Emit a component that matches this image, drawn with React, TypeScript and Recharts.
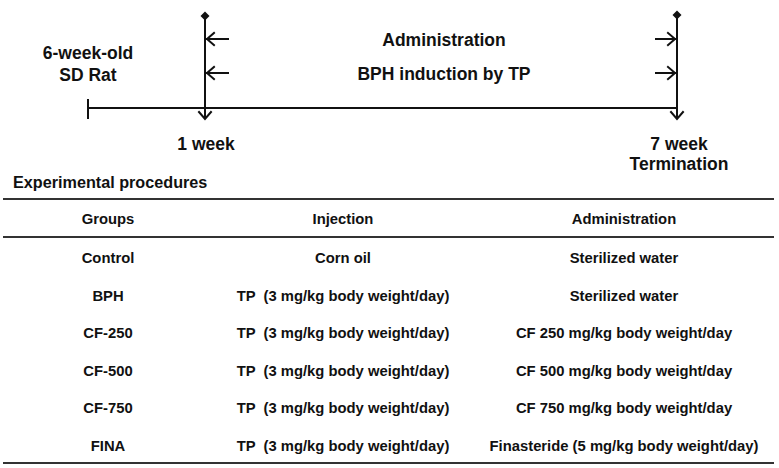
import React from 'react';
import { ComposedChart, XAxis, YAxis, ReferenceLine, Scatter } from 'recharts';

// --- content -------------------------------------------------------------
const milestoneLabels: string[][] = [['6-week-old', 'SD Rat'], ['1 week'], ['7 week', 'Termination']];
const phaseLabels = ['Administration', 'BPH induction by TP'];
const tableTitle = 'Experimental procedures';
const columnHeaders = ['Groups', 'Injection', 'Administration'];
const groups = ['Control', 'BPH', 'CF-250', 'CF-500', 'CF-750', 'FINA'];
const injections = [
  'Corn oil',
  'TP  (3 mg/kg body weight/day)',
  'TP  (3 mg/kg body weight/day)',
  'TP  (3 mg/kg body weight/day)',
  'TP  (3 mg/kg body weight/day)',
  'TP  (3 mg/kg body weight/day)',
];
const administrations = [
  'Sterilized water',
  'Sterilized water',
  'CF 250 mg/kg body weight/day',
  'CF 500 mg/kg body weight/day',
  'CF 750 mg/kg body weight/day',
  'Finasteride (5 mg/kg body weight/day)',
];

// --- layout (pixel space of the 779x468 canvas) -------------------------
const W = 779;
const H = 468;
const FONT = '"Liberation Sans", Arial, Helvetica, sans-serif';
const INK = '#111';
const RULE = '#333';

const TIMELINE_Y = 108;
const MILESTONE_X = [88, 205, 677];
const MILESTONE_TEXT_X = [88, 206, 679];
const VERT_TOP = 16;
const VERT_BOTTOM = 119;
const ARROW_Y = [39, 73];
const PHASE_X = 444;
const COL_X = [108, 343, 624];
const RULE_Y = [199, 237, 463];
const TABLE_LEFT = 3;
const TABLE_RIGHT = 774;
const HEADER_BASE = 224;
const ROW_BASE = 263;
const ROW_STEP = 37.5;
const TABLE_FONT = 14.8;

type TextItem = { x: number; y: number; text: string; size: number; anchor: 'start' | 'middle' };
type MarkItem = { x: number; y: number; kind: 'diamond' | 'down' | 'left' | 'right' };

const textItems: TextItem[] = [];
milestoneLabels.forEach((lines, i) => {
  const base = i === 0 ? 59 : 150;
  lines.forEach((t, j) => {
    textItems.push({ x: MILESTONE_TEXT_X[i], y: base + j * (i === 0 ? 22 : 20), text: t, size: 17.5, anchor: 'middle' });
  });
});
phaseLabels.forEach((t, i) => {
  textItems.push({ x: PHASE_X, y: [46, 80][i], text: t, size: 17.5, anchor: 'middle' });
});
textItems.push({ x: 13, y: 188, text: tableTitle, size: 16.2, anchor: 'start' });
columnHeaders.forEach((t, c) => {
  textItems.push({ x: COL_X[c], y: HEADER_BASE, text: t, size: TABLE_FONT, anchor: 'middle' });
});
groups.forEach((g, r) => {
  const y = ROW_BASE + r * ROW_STEP;
  [g, injections[r], administrations[r]].forEach((t, c) => {
    textItems.push({ x: COL_X[c], y, text: t, size: TABLE_FONT, anchor: 'middle' });
  });
});

const markItems: MarkItem[] = [
  { x: MILESTONE_X[1], y: VERT_TOP, kind: 'diamond' },
  { x: MILESTONE_X[2], y: VERT_TOP - 1, kind: 'diamond' },
  { x: MILESTONE_X[1], y: VERT_BOTTOM, kind: 'down' },
  { x: MILESTONE_X[2], y: VERT_BOTTOM, kind: 'down' },
  ...ARROW_Y.map((y) => ({ x: MILESTONE_X[1] + 2, y, kind: 'left' as const })),
  ...ARROW_Y.map((y) => ({ x: MILESTONE_X[2] - 2, y, kind: 'right' as const })),
];

const TextShape = (props: any) => {
  const { cx, cy, payload } = props;
  return (
    <text
      x={cx}
      y={cy}
      textAnchor={payload.anchor}
      fontFamily={FONT}
      fontWeight="bold"
      fontSize={payload.size}
      fill={INK}
      style={{ whiteSpace: 'pre' }}
    >
      {payload.text}
    </text>
  );
};

const MarkShape = (props: any) => {
  const { cx, cy, payload } = props;
  const s = { stroke: INK, strokeWidth: 2, fill: 'none', strokeLinecap: 'square' as const };
  if (payload.kind === 'diamond') {
    return <path d={`M${cx},${cy - 4.5}L${cx + 4.5},${cy}L${cx},${cy + 4.5}L${cx - 4.5},${cy}Z`} fill={INK} />;
  }
  if (payload.kind === 'down') {
    return <path d={`M${cx - 6},${cy - 7}L${cx},${cy}L${cx + 6},${cy - 7}`} {...s} />;
  }
  if (payload.kind === 'left') {
    return (
      <g>
        <path d={`M${cx},${cy}L${cx + 21},${cy}`} {...s} />
        <path d={`M${cx + 7},${cy - 6}L${cx},${cy}L${cx + 7},${cy + 6}`} {...s} />
      </g>
    );
  }
  return (
    <g>
      <path d={`M${cx},${cy}L${cx - 19},${cy}`} {...s} />
      <path d={`M${cx - 7},${cy - 6}L${cx},${cy}L${cx - 7},${cy + 6}`} {...s} />
    </g>
  );
};

export default function App() {
  return (
    <div style={{ position: 'absolute', left: 0, top: 0, width: W, height: H, background: '#fff' }}>
      <ComposedChart width={W} height={H} margin={{ top: 0, right: 0, bottom: 0, left: 0 }}>
        <XAxis type="number" dataKey="x" domain={[0, W]} allowDataOverflow hide />
        <YAxis type="number" dataKey="y" domain={[0, H]} allowDataOverflow reversed hide />

        {/* timeline */}
        <ReferenceLine
          segment={[{ x: MILESTONE_X[0], y: TIMELINE_Y }, { x: MILESTONE_X[2], y: TIMELINE_Y }]}
          stroke={INK}
          strokeWidth={2}
          ifOverflow="visible"
        />
        <ReferenceLine
          segment={[{ x: MILESTONE_X[0], y: 99 }, { x: MILESTONE_X[0], y: 119 }]}
          stroke={INK}
          strokeWidth={2}
          ifOverflow="visible"
        />
        {MILESTONE_X.slice(1).map((x) => (
          <ReferenceLine
            key={x}
            segment={[{ x, y: VERT_TOP }, { x, y: VERT_BOTTOM }]}
            stroke={INK}
            strokeWidth={2}
            ifOverflow="visible"
          />
        ))}

        {/* table rules */}
        {RULE_Y.map((y) => (
          <ReferenceLine
            key={y}
            segment={[{ x: TABLE_LEFT, y }, { x: TABLE_RIGHT, y }]}
            stroke={RULE}
            strokeWidth={2.2}
            ifOverflow="visible"
          />
        ))}

        <Scatter data={markItems} shape={<MarkShape />} isAnimationActive={false} />
        <Scatter data={textItems} shape={<TextShape />} isAnimationActive={false} />
      </ComposedChart>
    </div>
  );
}
